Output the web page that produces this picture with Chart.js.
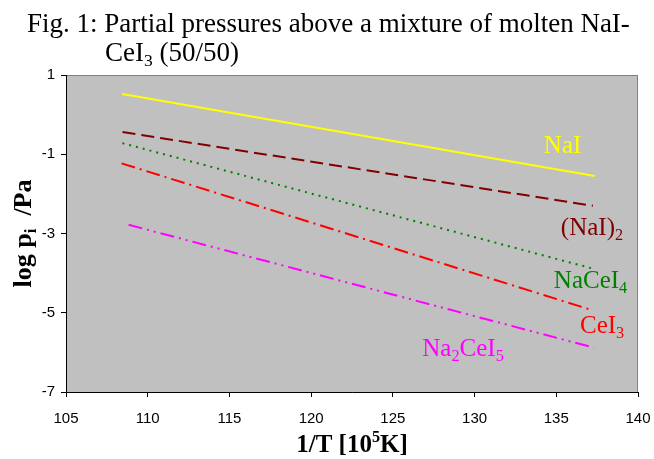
<!DOCTYPE html>
<html>
<head>
<meta charset="utf-8">
<script src="https://cdn.jsdelivr.net/npm/chart.js@4/dist/chart.umd.min.js"></script>
<style>
html,body{margin:0;padding:0;background:#fff;}
#wrap{width:654px;height:459px;}
</style>
</head>
<body>
<div id="wrap"><canvas id="c" width="654" height="459"></canvas></div>
<script>
// ---- data ----
const xTicks = [105, 110, 115, 120, 125, 130, 135, 140];
const yTicks = [1, -1, -3, -5, -7];

const xNaI = [108.44, 137.36];
const yNaI = [0.52, -1.55];

const xNaI2 = [108.46, 137.24];
const yNaI2 = [-0.44, -2.30];

const xNaCeI4 = [108.45, 137.36];
const yNaCeI4 = [-0.72, -3.90];

const xCeI3 = [108.40, 137.24];
const yCeI3 = [-1.23, -4.94];

const xNa2CeI5 = [108.83, 137.30];
const yNa2CeI5 = [-2.78, -5.88];

function pts(xs, ys) { return xs.map((x, i) => ({x: x, y: ys[i]})); }

const SERIF = '"Liberation Serif", "Times New Roman", serif';
const SANS = '"Liberation Sans", Arial, sans-serif';

function drawRich(ctx, parts, x, y, size, bold, color) {
  ctx.save();
  ctx.fillStyle = color;
  ctx.textBaseline = 'alphabetic';
  ctx.textAlign = 'left';
  let cx = x;
  for (const [t, mode] of parts) {
    const s = mode ? size * 0.65 : size;
    ctx.font = (bold ? 'bold ' : '') + s + 'px ' + SERIF;
    const dy = mode === 1 ? size * 0.2 : (mode === 2 ? -size * 0.4 : 0);
    ctx.fillText(t, cx, y + dy);
    cx += ctx.measureText(t).width;
  }
  ctx.restore();
  return cx - x;
}
function richWidth(ctx, parts, size, bold) {
  let w = 0;
  ctx.save();
  for (const [t, mode] of parts) {
    const s = mode ? size * 0.65 : size;
    ctx.font = (bold ? 'bold ' : '') + s + 'px ' + SERIF;
    w += ctx.measureText(t).width;
  }
  ctx.restore();
  return w;
}

const decor = {
  id: 'decor',
  beforeDraw(chart) {
    const {ctx, chartArea: a} = chart;
    ctx.save();
    ctx.fillStyle = '#C0C0C0';
    ctx.fillRect(a.left, a.top, a.right - a.left, a.bottom - a.top);
    ctx.strokeStyle = '#808080';
    ctx.lineWidth = 1;
    ctx.strokeRect(a.left + 0.5, a.top + 0.5, a.right - a.left - 1, a.bottom - a.top);
    ctx.restore();
  },
  afterDraw(chart, args, opts) {
    const {ctx, chartArea: a, scales} = chart;
    // title
    drawRich(ctx, [['Fig. 1: Partial pressures above a mixture of molten NaI-', 0]], 27, 32, 27, false, '#000');
    drawRich(ctx, [['CeI', 0], ['3', 1], [' (50/50)', 0]], 105, 61, 27, false, '#000');
    // x axis title
    const xt = [['1/T [10', 0], ['5', 2], ['K]', 0]];
    const xw = richWidth(ctx, xt, 25, true);
    drawRich(ctx, xt, (a.left + a.right) / 2 - xw / 2, 452, 25, true, '#000');
    // y axis title
    const yt = [['log p', 0], ['i', 1], ['  /Pa', 0]];
    const yw = richWidth(ctx, yt, 26, true);
    ctx.save();
    ctx.translate(31, (a.top + a.bottom) / 2);
    ctx.rotate(-Math.PI / 2);
    drawRich(ctx, yt, -yw / 2, 0, 26, true, '#000');
    ctx.restore();
    // series labels
    for (const l of opts.labels) {
      const px = scales.x.getPixelForValue(l.at[0]);
      const py = scales.y.getPixelForValue(l.at[1]);
      drawRich(ctx, l.parts, px, py, 25, false, l.color);
    }
  }
};

const common = {showLine: true, pointRadius: 0, borderWidth: 2, fill: false, tension: 0};

new Chart(document.getElementById('c'), {
  type: 'scatter',
  data: {
    datasets: [
      Object.assign({label: 'NaI', data: pts(xNaI, yNaI), borderColor: '#FFFF00'}, common),
      Object.assign({label: '(NaI)2', data: pts(xNaI2, yNaI2), borderColor: '#800000', borderDash: [13, 6]}, common),
      Object.assign({label: 'NaCeI4', data: pts(xNaCeI4, yNaCeI4), borderColor: '#008000', borderDash: [2, 5]}, common),
      Object.assign({label: 'CeI3', data: pts(xCeI3, yCeI3), borderColor: '#FF0000', borderDash: [14, 5, 2, 5]}, common),
      Object.assign({label: 'Na2CeI5', data: pts(xNa2CeI5, yNa2CeI5), borderColor: '#FF00FF', borderDash: [14, 5, 2, 5, 2, 5]}, common)
    ]
  },
  options: {
    responsive: false,
    animation: false,
    devicePixelRatio: 1,
    layout: {padding: {top: 75, right: 16, left: 0, bottom: 0}},
    plugins: {
      legend: {display: false},
      tooltip: {enabled: false},
      title: {display: false},
      decor: {
        labels: [
          {parts: [['NaI', 0]], at: [134.24, -0.97], color: '#FFFF00'},
          {parts: [['(NaI)', 0], ['2', 1]], at: [135.28, -3.04], color: '#800000'},
          {parts: [['NaCeI', 0], ['4', 1]], at: [134.85, -4.38], color: '#008000'},
          {parts: [['CeI', 0], ['3', 1]], at: [136.45, -5.52], color: '#FF0000'},
          {parts: [['Na', 0], ['2', 1], ['CeI', 0], ['5', 1]], at: [126.8, -6.08], color: '#FF00FF'}
        ]
      }
    },
    scales: {
      x: {
        type: 'linear', min: 105, max: 140,
        afterBuildTicks: s => { s.ticks = xTicks.map(v => ({value: v})); },
        afterFit: s => { s.height = 67; s.paddingLeft = 0; s.paddingRight = 0; },
        ticks: {color: '#000', font: {family: SANS, size: 15}, padding: 13, maxRotation: 0},
        grid: {drawOnChartArea: false, drawTicks: true, tickLength: 5, color: '#000'},
        border: {color: '#000', width: 1}
      },
      y: {
        type: 'linear', min: -7, max: 1,
        afterBuildTicks: s => { s.ticks = yTicks.map(v => ({value: v})); },
        afterFit: s => { s.width = 66; s.paddingTop = 0; s.paddingBottom = 0; },
        ticks: {color: '#000', font: {family: SANS, size: 15}, padding: 6},
        grid: {drawOnChartArea: false, drawTicks: true, tickLength: 5, color: '#000'},
        border: {color: '#000', width: 1}
      }
    }
  },
  plugins: [decor]
});
</script>
</body>
</html>
